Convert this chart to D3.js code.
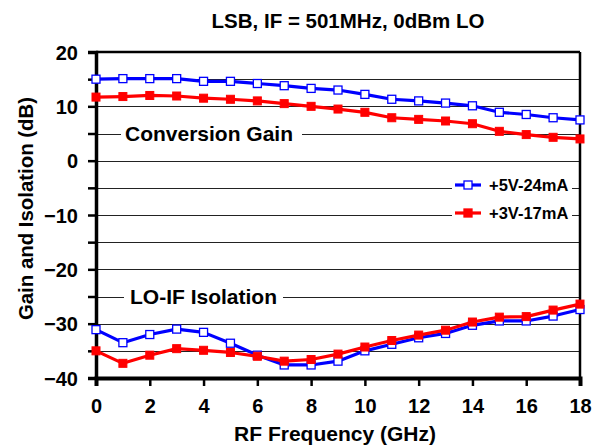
<!DOCTYPE html>
<html>
<head>
<meta charset="utf-8">
<script src="https://cdn.jsdelivr.net/npm/d3@7"></script>
<style>
  html, body { margin: 0; padding: 0; background: #fff; }
  svg { display: block; }
  text { font-family: "Liberation Sans", Arial, sans-serif; font-weight: bold; fill: #000; }
</style>
</head>
<body>
<svg id="chart" width="603" height="447"></svg>
<script>
const freq = [0,1,2,3,4,5,6,7,8,9,10,11,12,13,14,15,16,17,18];
const gain5V = [15.0,15.1,15.1,15.1,14.6,14.6,14.2,13.8,13.3,13.0,12.2,11.3,11.0,10.6,10.1,8.9,8.5,7.9,7.5];
const gain3V = [11.7,11.8,12.0,11.9,11.5,11.3,11.0,10.5,10.0,9.5,8.9,7.9,7.6,7.3,6.8,5.4,4.8,4.3,4.0];
const iso5V = [-31.1,-33.5,-32.0,-31.0,-31.6,-33.6,-35.8,-37.6,-37.6,-36.9,-35.0,-33.8,-32.6,-31.8,-30.3,-29.5,-29.5,-28.6,-27.4];
const iso3V = [-35.0,-37.3,-35.8,-34.6,-34.9,-35.3,-36.0,-36.9,-36.6,-35.6,-34.3,-33.1,-32.1,-31.2,-29.7,-28.8,-28.7,-27.5,-26.4];
const seriesNames = ["+5V-24mA", "+3V-17mA"];
const xTicks = [0,2,4,6,8,10,12,14,16,18];
const yTicks = [20,15,10,5,0,-5,-10,-15,-20,-25,-30,-35,-40];
const yLabels = [20,10,0,-10,-20,-30,-40];
const titleText = "LSB, IF = 501MHz, 0dBm LO";
const xTitle = "RF Frequency (GHz)";
const yTitle = "Gain and Isolation (dB)";
const noteGain = "Conversion Gain";
const noteIso = "LO-IF Isolation";

const svg = d3.select("#chart");
const x = d3.scaleLinear().domain([0, 18]).range([96, 580]);
const y = d3.scaleLinear().domain([-40, 20]).range([378, 52]);

// gridlines
const grid = yTicks.filter(v => v > -40 && v < 20);
svg.append("g").selectAll("line").data(grid).join("line")
  .attr("x1", x(0)).attr("x2", x(18))
  .attr("y1", d => Math.round(y(d)) + 0.5).attr("y2", d => Math.round(y(d)) + 0.5)
  .attr("stroke", "#222").attr("stroke-width", 1);

// text annotations with white background covering gridline
function note(txt, val, xStart, gapL, gapR) {
  svg.append("rect").attr("x", gapL).attr("y", y(val) - 12)
    .attr("width", gapR - gapL).attr("height", 24).attr("fill", "#fff");
  svg.append("text").attr("x", xStart).attr("y", y(val) + 7.5)
    .attr("font-size", 21).text(txt);
}
note(noteGain, 5, 125, 121, 302);
note(noteIso, -25, 130, 124, 283);

// frame: top and right
svg.append("line").attr("x1", x(0)).attr("x2", x(18)).attr("y1", y(20)).attr("y2", y(20))
  .attr("stroke", "#000").attr("stroke-width", 2.5);
svg.append("line").attr("x1", x(18)).attr("x2", x(18)).attr("y1", y(20)).attr("y2", y(-40))
  .attr("stroke", "#000").attr("stroke-width", 2.5);

// axes
const yAxis = d3.axisLeft(y).tickValues(yTicks).tickSize(8).tickPadding(10)
  .tickFormat(d => yLabels.includes(d) ? d3.format("d")(d) : "");
const gy = svg.append("g").attr("transform", `translate(${x(0)},0)`).call(yAxis);
gy.select(".domain").attr("stroke", "#000").attr("stroke-width", 3.5);
gy.selectAll(".tick line").attr("stroke", "#000").attr("stroke-width", 2.5);
gy.selectAll(".tick text").attr("font-size", 20).attr("dy", "0.36em")
  .attr("font-family", "Liberation Sans, Arial, sans-serif").attr("font-weight", "bold");

const xAxis = d3.axisBottom(x).tickValues(xTicks).tickSize(8).tickPadding(13)
  .tickFormat(d3.format("d"));
const gx = svg.append("g").attr("transform", `translate(0,${y(-40)})`).call(xAxis);
gx.select(".domain").attr("stroke", "#000").attr("stroke-width", 4);
gx.selectAll(".tick line").attr("stroke", "#000").attr("stroke-width", 2.5);
gx.selectAll(".tick text").attr("font-size", 20)
  .attr("font-family", "Liberation Sans, Arial, sans-serif").attr("font-weight", "bold");

// series
const line = d3.line().x((d, i) => x(freq[i])).y(d => y(d));
const series = [
  { data: gain5V, color: "#0000ff", open: true },
  { data: gain3V, color: "#ff0000", open: false },
  { data: iso5V, color: "#0000ff", open: true },
  { data: iso3V, color: "#ff0000", open: false }
];
// draw red after blue per plot section as in reference
[series[0], series[2], series[1], series[3]].forEach(s => {
  const g = svg.append("g");
  g.append("path").datum(s.data).attr("d", line)
    .attr("fill", "none").attr("stroke", s.color).attr("stroke-width", 3.2)
    .attr("stroke-linejoin", "round");
  g.selectAll("rect").data(s.data).join("rect")
    .attr("x", (d, i) => x(freq[i]) - 4).attr("y", d => y(d) - 4)
    .attr("width", 8).attr("height", 8)
    .attr("fill", s.open ? "#fff" : s.color)
    .attr("stroke", s.color).attr("stroke-width", s.open ? 1.3 : 1);
});

// legend
svg.append("rect").attr("x", 452).attr("y", 172).attr("width", 120).attr("height", 56).attr("fill", "#fff");
const legY = [185, 213];
const legCol = ["#0000ff", "#ff0000"];
seriesNames.forEach((name, i) => {
  const gl = svg.append("g");
  gl.append("line").attr("x1", 455).attr("x2", 481).attr("y1", legY[i]).attr("y2", legY[i])
    .attr("stroke", legCol[i]).attr("stroke-width", 3.2);
  gl.append("rect").attr("x", 464).attr("y", legY[i] - 4).attr("width", 8).attr("height", 8)
    .attr("fill", i === 0 ? "#fff" : legCol[i]).attr("stroke", legCol[i]).attr("stroke-width", 1.3);
  gl.append("text").attr("x", 489).attr("y", legY[i] + 6).attr("font-size", 16.5).text(name);
});

// titles
svg.append("text").attr("x", 348).attr("y", 28).attr("text-anchor", "middle")
  .attr("font-size", 20.5).text(titleText);
svg.append("text").attr("x", 335).attr("y", 441).attr("text-anchor", "middle")
  .attr("font-size", 21).text(xTitle);
svg.append("text").attr("transform", "translate(33,208.5) rotate(-90)")
  .attr("text-anchor", "middle").attr("font-size", 20.4).text(yTitle);
</script>
</body>
</html>
